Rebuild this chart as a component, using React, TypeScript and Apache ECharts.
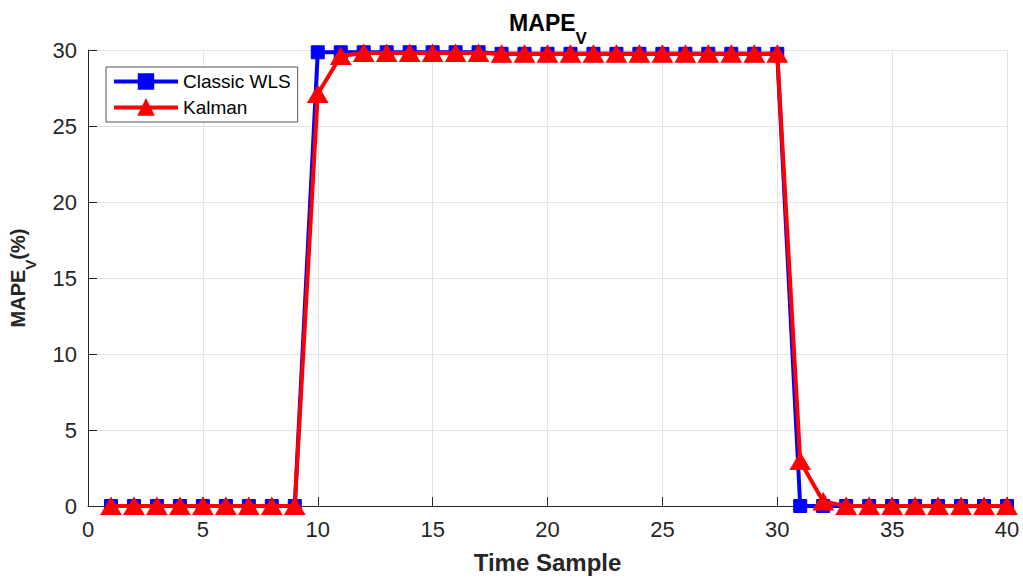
import React, { useEffect, useRef } from "react";
import * as echarts from "echarts";

const timeSamples = Array.from({ length: 40 }, (_, i) => i + 1);
const classicWLS = [
  0, 0, 0, 0, 0, 0, 0, 0, 0,
  29.85, 29.85, 29.85, 29.85, 29.85, 29.85, 29.85, 29.85,
  29.75, 29.75, 29.75, 29.75, 29.75, 29.75, 29.75, 29.75, 29.75, 29.75, 29.75, 29.75, 29.75,
  0, 0, 0, 0, 0, 0, 0, 0, 0, 0,
];
const kalman = [
  0, 0, 0, 0, 0, 0, 0, 0, 0,
  27.1, 29.6, 29.8, 29.8, 29.8, 29.8, 29.8, 29.8,
  29.75, 29.75, 29.75, 29.75, 29.75, 29.75, 29.75, 29.75, 29.75, 29.75, 29.75, 29.75, 29.75,
  2.95, 0.3, 0, 0, 0, 0, 0, 0, 0, 0,
];

const FONT = "Liberation Sans, Arial, Helvetica, sans-serif";
const AX = "#262626";

export default function App() {
  const ref = useRef<HTMLDivElement>(null);
  useEffect(() => {
    if (!ref.current) return;
    const chart = echarts.init(ref.current, undefined, { renderer: "svg" });
    chart.setOption({
      animation: false,
      backgroundColor: "#ffffff",
      textStyle: { fontFamily: FONT },
      title: {
        text: "{a|MAPE}{b|V}",
        left: 543,
        textAlign: "center",
        top: 6,
        textStyle: {
          rich: {
            a: { fontSize: 23, fontWeight: "bold", color: "#000", fontFamily: FONT, lineHeight: 36, verticalAlign: "top" },
            b: { fontSize: 17, fontWeight: "bold", color: "#000", fontFamily: FONT, lineHeight: 36, verticalAlign: "bottom" },
          },
        },
      },
      legend: {
        orient: "vertical",
        left: 106,
        top: 67,
        itemWidth: 64,
        itemHeight: 18,
        itemGap: 7,
        padding: [5, 7, 5, 6],
        borderColor: "#555",
        borderWidth: 1,
        borderRadius: 0,
        backgroundColor: "#fff",
        lineStyle: { width: 4 },
        textStyle: { fontSize: 19, color: "#000", fontFamily: FONT },
        data: ["Classic WLS", "Kalman"],
      },
      grid: { left: 88, right: 16, top: 50, bottom: 72 },
      xAxis: {
        type: "value",
        min: 0,
        max: 40,
        interval: 5,
        name: "Time Sample",
        nameLocation: "middle",
        nameGap: 44,
        nameTextStyle: { fontSize: 24, fontWeight: "bold", color: AX, fontFamily: FONT },
        axisLine: { show: true, onZero: false, lineStyle: { color: AX, width: 1 } },
        axisTick: { show: true, inside: true, length: 9, lineStyle: { color: AX } },
        axisLabel: { fontSize: 22, color: AX, margin: 12, fontFamily: FONT },
        splitLine: { show: true, lineStyle: { color: "#e3e3e3", width: 1 } },
      },
      yAxis: {
        type: "value",
        min: 0,
        max: 30,
        interval: 5,
        name: "{a|MAPE}{b|V}{a|(%)}",
        nameLocation: "middle",
        nameGap: 50,
        nameRotate: 90,
        nameTextStyle: {
          rich: {
            a: { fontSize: 20, fontWeight: "bold", color: AX, fontFamily: FONT, lineHeight: 30, verticalAlign: "top" },
            b: { fontSize: 15, fontWeight: "bold", color: AX, fontFamily: FONT, lineHeight: 30, verticalAlign: "bottom" },
          },
        },
        axisLine: { show: true, lineStyle: { color: AX, width: 1 } },
        axisTick: { show: true, inside: true, length: 9, lineStyle: { color: AX } },
        axisLabel: { fontSize: 22, color: AX, margin: 11, fontFamily: FONT },
        splitLine: { show: true, lineStyle: { color: "#e3e3e3", width: 1 } },
      },
      series: [
        {
          name: "Classic WLS",
          type: "line",
          data: timeSamples.map((t, i) => [t, classicWLS[i]]),
          symbol: "rect",
          symbolSize: 13,
          showAllSymbol: true,
          color: "#0000ff",
          lineStyle: { color: "#0000ff", width: 4 },
          itemStyle: { color: "#0000ff", borderColor: "#0000ff", borderWidth: 1 },
          z: 2,
        },
        {
          name: "Kalman",
          type: "line",
          data: timeSamples.map((t, i) => [t, kalman[i]]),
          symbol: "triangle",
          symbolSize: [20, 17],
          showAllSymbol: true,
          color: "#ff0000",
          lineStyle: { color: "#ff0000", width: 4 },
          itemStyle: { color: "#ff0000", borderColor: "#ff0000", borderWidth: 1 },
          z: 3,
        },
      ],
    });
    return () => chart.dispose();
  }, []);
  return (
    <div
      ref={ref}
      style={{ position: "absolute", left: 0, top: 0, width: 1023, height: 579 }}
    />
  );
}
